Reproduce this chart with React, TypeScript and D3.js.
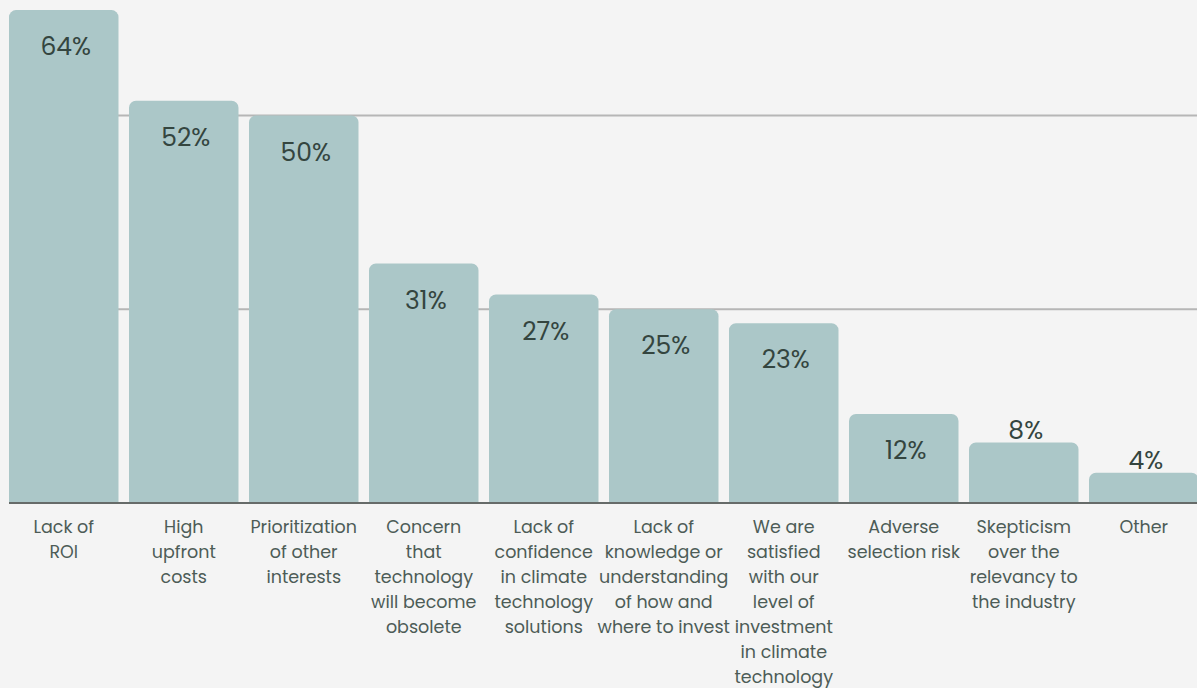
import React, { useEffect } from "react";
import * as d3 from "d3";

const categories: string[][] = [
  ["Lack of", "ROI"],
  ["High", "upfront", "costs"],
  ["Prioritization", "of other", "interests"],
  ["Concern", "that", "technology", "will become", "obsolete"],
  ["Lack of", "confidence", "in climate", "technology", "solutions"],
  ["Lack of", "knowledge or", "understanding", "of how and", "where to invest"],
  ["We are", "satisfied", "with our", "level of", "investment", "in climate", "technology"],
  ["Adverse", "selection risk"],
  ["Skepticism", "over the", "relevancy to", "the industry"],
  ["Other"],
];
const values: number[] = [63.6, 51.9, 50, 30.9, 26.9, 25, 23.2, 11.5, 7.8, 3.9];
const gridTicks: number[] = [25, 50];

const W = 1197;
const H = 688;

export default function App() {
  useEffect(() => {
    document.body.style.margin = "0";
    document.body.style.background = "#f4f4f4";
  }, []);

  const idx = values.map((_, i) => String(i));
  const x = d3
    .scaleBand<string>()
    .domain(idx)
    .range([9, 1198.5])
    .paddingInner(0.0875)
    .paddingOuter(0);
  const y = d3.scaleLinear().domain([0, 50]).range([503, 115.5]);
  const bw = x.bandwidth();
  const r = 7;

  const barPath = (i: number) => {
    const x0 = x(String(i))!;
    const x1 = x0 + bw;
    const y0 = y(0);
    const yt = y(values[i]);
    const rr = Math.min(r, (y0 - yt) / 2);
    const p = d3.path();
    p.moveTo(x0, y0);
    p.lineTo(x0, yt + rr);
    p.arcTo(x0, yt, x0 + rr, yt, rr);
    p.lineTo(x1 - rr, yt);
    p.arcTo(x1, yt, x1, yt + rr, rr);
    p.lineTo(x1, y0);
    p.closePath();
    return p.toString();
  };

  const catFont = "Poppins, 'Open Sans', sans-serif";
  const valFont = "Poppins, Inter, 'Open Sans', sans-serif";

  return (
    <svg
      width={W}
      height={H}
      style={{ position: "absolute", left: 0, top: 0, display: "block" }}
    >
      <rect x={0} y={0} width={W} height={H} fill="#f4f4f4" />
      {gridTicks.map((t) => (
        <line
          key={t}
          x1={9}
          x2={W}
          y1={y(t)}
          y2={y(t)}
          stroke="#b6b6b6"
          strokeWidth={2}
        />
      ))}
      {values.map((v, i) => (
        <path key={i} d={barPath(i)} fill="#abc7c8" />
      ))}
      <line x1={9} x2={W} y1={y(0)} y2={y(0)} stroke="#666b69" strokeWidth={2} />
      {values.map((v, i) => {
        const cx = x(String(i))! + bw / 2 + 2;
        const inside = v >= 10;
        const ty = inside ? y(v) + 45 : y(v) - 4;
        return (
          <text
            key={i}
            x={cx}
            y={ty}
            textAnchor="middle"
            fontFamily={valFont}
            fontSize={25}
            fill="#34453f"
          >
            {Math.round(v)}%
          </text>
        );
      })}
      {categories.map((lines, i) => {
        const cx = x(String(i))! + bw / 2;
        return (
          <text
            key={i}
            textAnchor="middle"
            fontFamily={catFont}
            fontSize={17.5}
            fill="#4d5c57"
          >
            {lines.map((l, j) => (
              <tspan key={j} x={cx} y={533 + j * 25}>
                {l}
              </tspan>
            ))}
          </text>
        );
      })}
    </svg>
  );
}
